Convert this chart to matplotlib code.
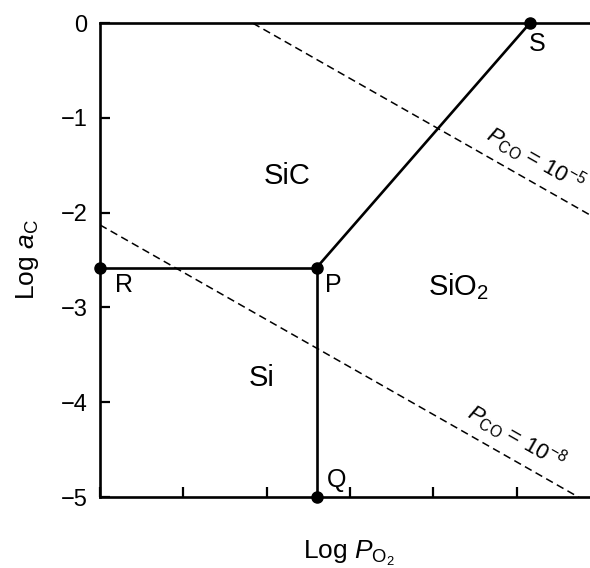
import numpy as np
import matplotlib
matplotlib.use('Agg')
from matplotlib import pyplot as plt

plt.rcParams['font.family'] = ['Liberation Sans', 'DejaVu Sans']
plt.rcParams['mathtext.fontset'] = 'custom'
plt.rcParams['mathtext.rm'] = 'Liberation Sans'
plt.rcParams['mathtext.it'] = 'Liberation Sans:italic'
plt.rcParams['axes.unicode_minus'] = True

# Points of the phase boundaries (Log P_O2 in arbitrary tick units, Log a_C)
pt_names = ['R', 'P', 'Q', 'S']
pt_x = [0.0, 2.6, 2.6, 5.16]
pt_y = [-2.58, -2.58, -5.0, 0.0]

# Iso-P_CO lines: Log a_C = intercept - 0.5 * x
co_intercepts = [0.915, -2.13]
co_labels = [r'$P_{\mathrm{CO}}$ = 10$^{-5}$', r'$P_{\mathrm{CO}}$ = 10$^{-8}$']
co_label_x = [5.22, 5.0]

regions = ['SiC', 'SiO$_2$', 'Si']
region_x = [2.25, 4.3, 1.94]
region_y = [-1.61, -2.78, -3.74]

yticks = [0, -1, -2, -3, -4, -5]
xticks = [0, 1, 2, 3, 4, 5]

fig = plt.figure(figsize=(5.9, 5.68), dpi=100)
ax = fig.add_axes([100 / 590, 1 - 497 / 568, 1 - 100 / 590, (497 - 23) / 568])
ax.set_xlim(0, 5.88)
ax.set_ylim(-5, 0)

# границы фаз
R, P, Q, S = [(pt_x[i], pt_y[i]) for i in range(4)]
kw = dict(color='black', lw=1.9, solid_capstyle='butt', zorder=3)
ax.plot([R[0], P[0]], [R[1], P[1]], **kw)
ax.plot([P[0], Q[0]], [P[1], Q[1]], **kw)
ax.plot([P[0], S[0]], [P[1], S[1]], **kw)
ax.plot(pt_x, pt_y, 'o', color='black', ms=8, clip_on=False, zorder=5)

label_off = {'R': (0.29, -0.18), 'P': (0.2, -0.18), 'Q': (0.24, 0.18), 'S': (0.09, -0.22)}
for name, x, y in zip(pt_names, pt_x, pt_y):
    dx, dy = label_off[name]
    ax.text(x + dx, y + dy, name, fontsize=18, ha='center', va='center')

# линии постоянного P_CO
xs = np.linspace(0, 5.88, 200)
for b, lab, lx in zip(co_intercepts, co_labels, co_label_x):
    ax.plot(xs, b - 0.5 * xs, ls=(0, (5, 3)), color='black', lw=1.1)
    ly = b - 0.5 * lx + 0.26
    ax.text(lx, ly, lab, fontsize=16, rotation=-29.7, rotation_mode='anchor',
            ha='center', va='center')

for name, x, y in zip(regions, region_x, region_y):
    ax.text(x, y, name, fontsize=21, ha='center', va='center')

ax.set_xticks(xticks)
ax.set_xticklabels([])
ax.set_yticks(yticks)
ax.set_yticklabels(['0'] + ['\u2212%d' % abs(t) for t in yticks[1:]])
ax.tick_params(direction='in', length=7, width=1.6, labelsize=17, pad=9)
ax.tick_params(axis='x', top=False)
ax.tick_params(axis='y', right=False)
for side in ['left', 'bottom', 'top']:
    ax.spines[side].set_linewidth(1.9)
ax.spines['right'].set_visible(False)

ax.set_ylabel(r'Log $a_{\mathrm{C}}$', fontsize=19)
ax.yaxis.set_label_coords(-0.121, 0.5)
ax.set_xlabel(r'Log $P_{\mathrm{O_2}}$', fontsize=19, va='top')
ax.xaxis.set_label_coords(0.508, -0.088)

plt.savefig('out.png', dpi=100)
